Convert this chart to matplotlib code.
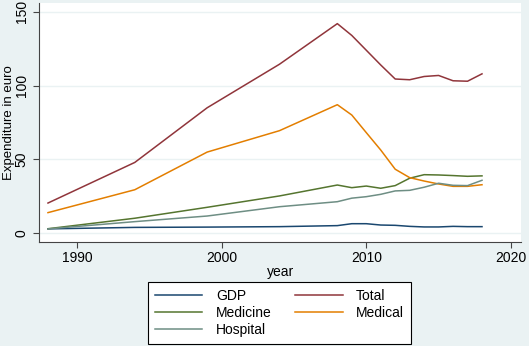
import matplotlib
matplotlib.use("Agg")
import matplotlib.pyplot as plt

plt.rcParams['font.family'] = ['Liberation Sans', 'DejaVu Sans']

years = [1988, 1994, 1999, 2004, 2008, 2009, 2010, 2011, 2012, 2013, 2014, 2015, 2016, 2017, 2018]
gdp = [3.0, 4.0, 4.2, 4.5, 5.2, 6.5, 6.5, 5.6, 5.4, 4.7, 4.3, 4.3, 4.7, 4.5, 4.5]
total = [20.5, 48.0, 85.0, 114.5, 142.0, 134.0, 124.0, 114.0, 104.5, 104.0, 106.2, 106.9, 103.3, 103.0, 108.0]
medicine = [3.1, 10.2, 17.6, 25.3, 32.7, 30.9, 32.0, 30.5, 32.3, 37.3, 39.7, 39.5, 39.1, 38.6, 38.9]
medical = [14.0, 29.5, 55.0, 69.5, 87.1, 80.1, 68.2, 56.4, 43.4, 37.7, 35.4, 33.4, 31.8, 31.8, 32.9]
hospital = [3.0, 7.9, 11.7, 18.0, 21.4, 23.8, 24.8, 26.4, 28.7, 29.1, 31.2, 33.9, 32.5, 32.3, 35.9]

series = [("GDP", gdp, "#1a476f"), ("Total", total, "#90353b"),
          ("Medicine", medicine, "#55752f"), ("Medical", medical, "#e37e00"),
          ("Hospital", hospital, "#6e8e84")]

xticks = [1990, 2000, 2010, 2020]
yticks = [0, 50, 100, 150]

bg = "#eaf2f3"
fig = plt.figure(figsize=(5.29, 3.46), dpi=100, facecolor=bg)
ax = fig.add_axes([0.0743, 0.3014, 0.9107, 0.6896])
ax.set_facecolor("white")

handles = {}
for name, vals, col in series:
    h, = ax.plot(years, vals, color=col, lw=1.1, label=name)
    handles[name] = h

ax.set_xlim(1987.4, 2020.7)
ax.set_ylim(-5.7, 155.9)
ax.set_xticks(xticks)
ax.set_yticks(yticks, labels=[str(v) for v in yticks], rotation=90,
              va="center", ha="right", rotation_mode="default")
ax.yaxis.grid(True, color=bg, lw=1.0)
ax.set_axisbelow(True)

for s in ["top", "right"]:
    ax.spines[s].set_visible(False)
for s in ["left", "bottom"]:
    ax.spines[s].set_color("#444444")
    ax.spines[s].set_linewidth(0.8)

ax.tick_params(axis="both", direction="out", length=4.3, width=0.8, color="#444444", labelsize=10)
ax.tick_params(axis="x", pad=2.5)
ax.tick_params(axis="y", pad=3.3)

ax.set_xlabel("year", fontsize=10, labelpad=0)
ax.set_ylabel("Expenditure in euro", fontsize=9.5)
ax.yaxis.set_label_coords(-0.05, 0.5)

order = ["GDP", "Medicine", "Hospital", "Total", "Medical"]
leg = fig.legend([handles[n] for n in order], order, ncol=2, loc="upper center",
                 bbox_to_anchor=(0.528, 0.184), frameon=True, fancybox=False,
                 edgecolor="black", facecolor="white", fontsize=10,
                 handlelength=3.45, handletextpad=0.96, columnspacing=1.68,
                 labelspacing=0.2, borderpad=0.5, borderaxespad=0.0, framealpha=1)
leg.get_frame().set_linewidth(0.8)

fig.savefig("out.png", dpi=100, facecolor=bg)
